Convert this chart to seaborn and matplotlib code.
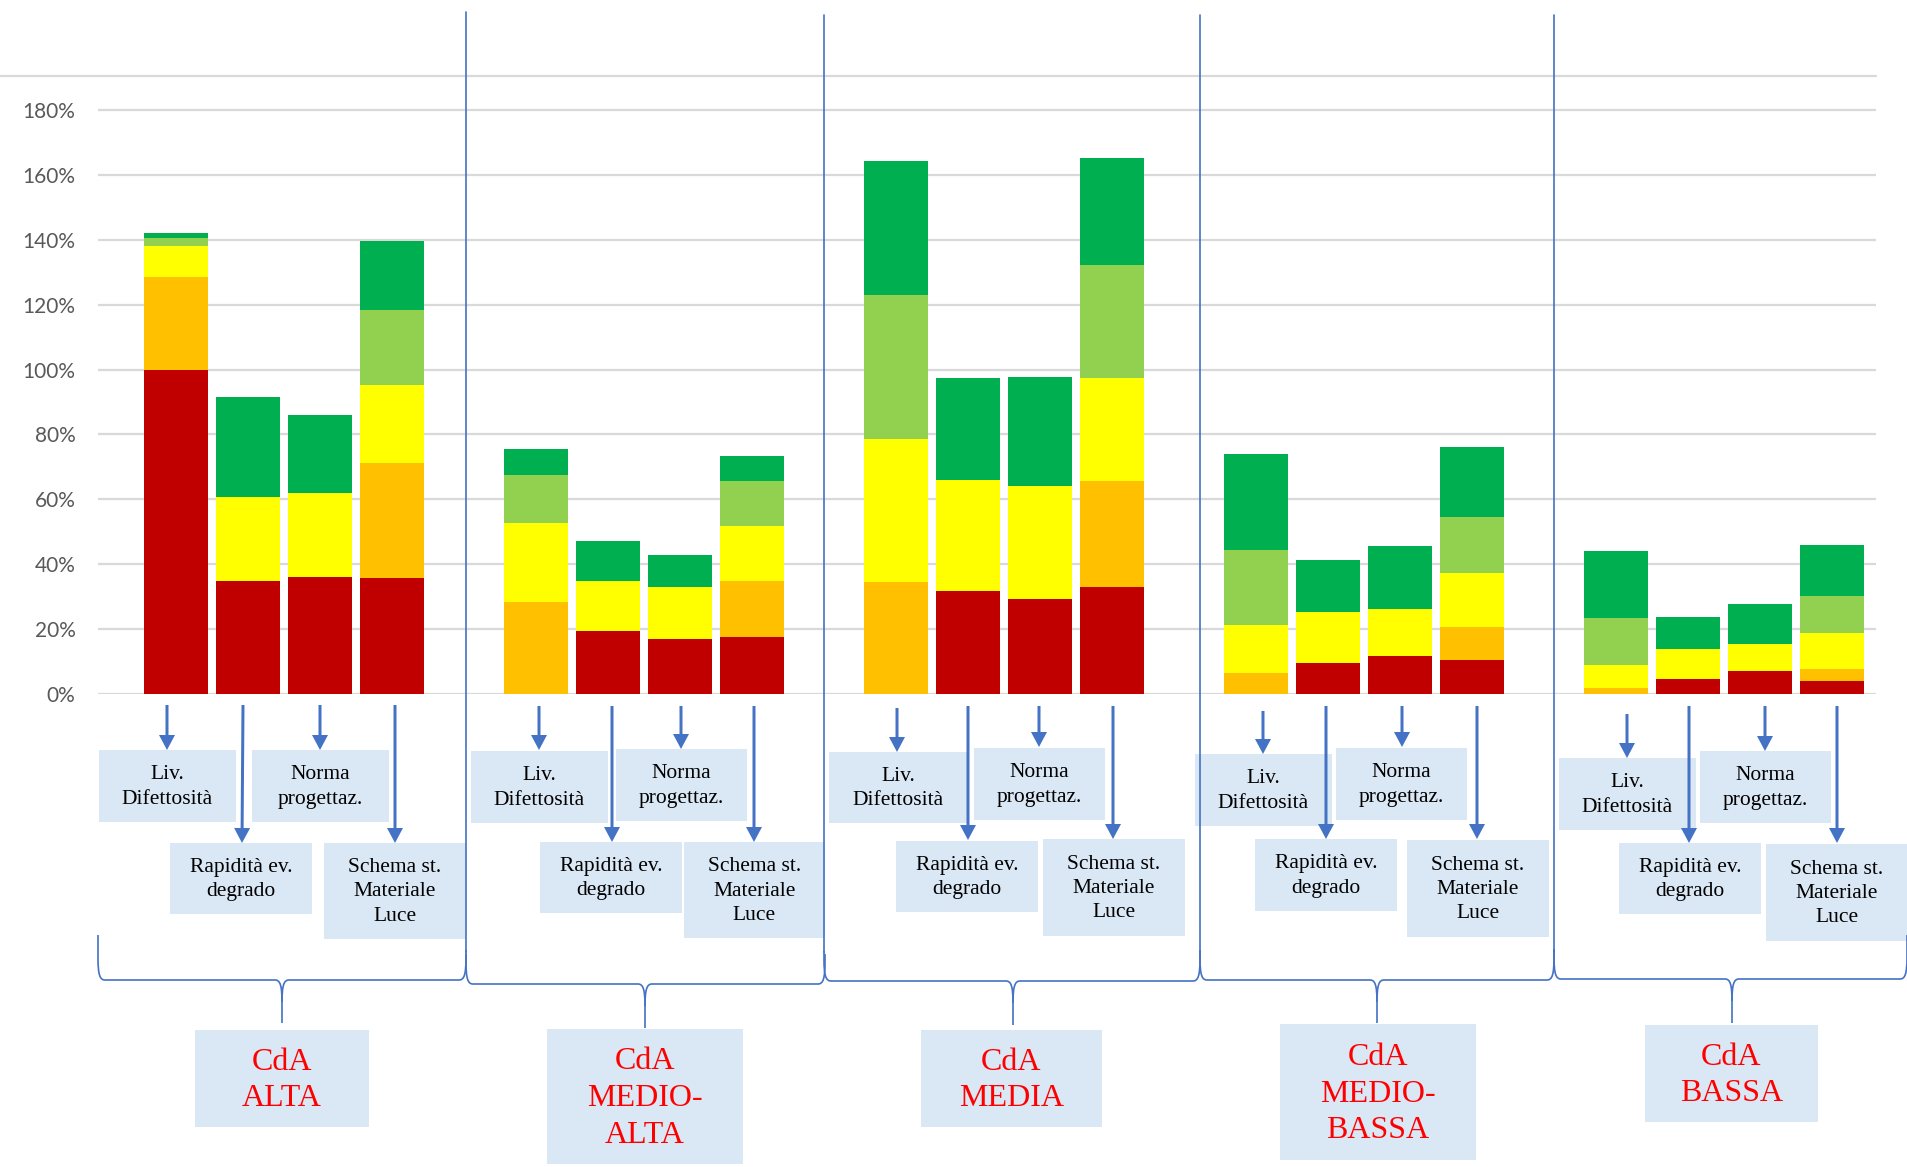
import numpy as np
import pandas as pd
import matplotlib
matplotlib.use("Agg")
import matplotlib.pyplot as plt
import seaborn as sns
from matplotlib.patches import Rectangle, FancyArrow, PathPatch
from matplotlib.path import Path
from matplotlib.lines import Line2D
from matplotlib.transforms import Affine2D

# ---------------------------------------------------------------- data
classi = ["ALTA", "MEDIO-\nALTA", "MEDIA", "MEDIO-\nBASSA", "BASSA"]
criteri = ["Liv.\nDifettosità", "Rapidità ev.\ndegrado",
           "Norma\nprogettaz.", "Schema st.\nMateriale\nLuce"]

# percentage share of each level, 4 bars (criteri) per class of attention
rosso = [100.0, 34.9, 36.1, 35.7,
         0.0, 19.5, 16.9, 17.5,
         0.0, 31.8, 29.4, 33.1,
         0.0, 9.6, 11.7, 10.4,
         0.0, 4.5, 7.0, 4.1]
arancione = [28.5, 0.0, 0.0, 35.6,
             28.5, 0.0, 0.0, 17.4,
             34.4, 0.0, 0.0, 32.6,
             6.4, 0.0, 0.0, 10.3,
             1.8, 0.0, 0.0, 3.7]
giallo = [9.6, 25.7, 26.0, 24.1,
          24.1, 15.4, 16.2, 17.0,
          44.3, 34.3, 34.8, 31.6,
          15.0, 15.8, 14.5, 16.5,
          7.0, 9.4, 8.3, 10.9]
verde_chiaro = [2.6, 0.0, 0.0, 22.9,
                15.0, 0.0, 0.0, 13.8,
                44.2, 0.0, 0.0, 34.8,
                23.0, 0.0, 0.0, 17.4,
                14.5, 0.0, 0.0, 11.4]
verde = [1.3, 30.8, 24.0, 21.4,
         7.8, 12.2, 9.8, 7.8,
         41.5, 31.2, 33.6, 33.1,
         29.6, 15.8, 19.3, 21.4,
         20.7, 9.8, 12.5, 15.8]

yticks = [0, 20, 40, 60, 80, 100, 120, 140, 160, 180]

colori = ["#C00000", "#FFC000", "#FFFF00", "#92D050", "#00B050"]

# ---------------------------------------------------------------- figure
W, H = 1908, 1167
sns.set_style("white")
fig = plt.figure(figsize=(W / 100, H / 100), dpi=100)

ax_left, ax_right = 97.7, 1875.7
ax_top, ax_bot = 77.6, 694.0
ax = fig.add_axes([ax_left / W, 1 - ax_bot / H,
                   (ax_right - ax_left) / W, (ax_bot - ax_top) / H])

# one category slot per bar, with an empty slot between classes
n_cls, n_crit = len(classi), len(criteri)
slots = [str(5 * g + j) for g in range(n_cls) for j in range(n_crit)]
order = [str(i) for i in range(5 * n_cls - 1)]

stack = np.array([rosso, arancione, giallo, verde_chiaro, verde])
cum = np.cumsum(stack, axis=0)

# stacked bars: draw the cumulative totals from the top level downwards
for k in reversed(range(len(stack))):
    mask = stack[k] > 0
    df = pd.DataFrame({"slot": np.array(slots)[mask], "top": cum[k][mask]})
    sns.barplot(data=df, x="slot", y="top", order=order, color=colori[k],
                saturation=1, width=0.89, errorbar=None, linewidth=0,
                ax=ax)

ax.set_xlim(-1.086, 23.608)
ax.set_ylim(0, 190)
ax.set_xticks([])
ax.set_xlabel("")
ax.set_ylabel("")
ax.set_yticks(yticks)
ax.set_yticklabels([f"{v}%" for v in yticks])
ax.tick_params(axis="y", length=0, pad=16, labelsize=15, labelcolor="#595959")
for lbl in ax.get_yticklabels():
    lbl.set_fontfamily("Lato")
ax.yaxis.grid(True, color="#D9D9D9", lw=1.6)
ax.xaxis.grid(False)
ax.set_axisbelow(True)
for s in ax.spines.values():
    s.set_visible(False)

# ---------------------------------------------------------------- annotations
# pixel coordinates of the canvas, y pointing down
T = Affine2D().scale(1 / W, -1 / H).translate(0, 1) + fig.transFigure
BLUE = "#4472C4"
BOX = "#DAE7F5"
SERIF = "Liberation Serif"

fig.add_artist(Line2D([0, 1876], [76, 76], transform=T, color="#D9D9D9", lw=1.6))

# label boxes per class: Liv, Rapidità, Norma, Schema, CdA  (x0, x1, y0, y1)
boxes = [
    [(99, 236, 750, 822), (170, 312, 843, 914), (252, 389, 750, 822), (324, 466, 843, 939), (195, 369, 1030, 1127)],
    [(471, 608, 751, 823), (540, 682, 842, 913), (616, 747, 749, 821), (684, 825, 842, 938), (547, 743, 1029, 1164)],
    [(829, 967, 752, 823), (896, 1038, 841, 912), (974, 1105, 748, 820), (1043, 1185, 839, 936), (921, 1102, 1030, 1127)],
    [(1195, 1332, 754, 826), (1255, 1397, 839, 911), (1336, 1467, 748, 820), (1407, 1549, 840, 937), (1280, 1476, 1024, 1160)],
    [(1559, 1696, 758, 830), (1619, 1761, 843, 914), (1700, 1831, 751, 823), (1766, 1908, 844, 941), (1645, 1818, 1025, 1122)],
]
# arrows: x top, y top, x tip, y tip
arrows = [
    [(167, 705, 167, 750), (243, 705, 242, 843), (320, 705, 320, 750), (395, 705, 395, 843)],
    [(539, 706, 539, 750), (612, 706, 612, 842), (681, 706, 681, 749), (754, 706, 754, 842)],
    [(897, 708, 897, 752), (968, 706, 968, 840), (1039, 706, 1039, 747), (1113, 706, 1113, 839)],
    [(1263, 711, 1263, 754), (1326, 706, 1326, 839), (1402, 706, 1402, 747), (1477, 706, 1477, 839)],
    [(1627, 714, 1627, 758), (1689, 706, 1689, 843), (1765, 706, 1765, 751), (1837, 706, 1837, 843)],
]
# braces: left, right, centre, horizontal y, tip y
braces = [
    (98, 466, 282, 980, 1023),
    (466, 825, 645, 984, 1028),
    (824, 1200, 1013, 981, 1025),
    (1200, 1554, 1377, 980, 1023),
    (1554, 1907, 1732, 979, 1023),
]
sep_x = [466, 824.3, 1200.5, 1554.3]
sep_top = [12, 15, 15, 15]

for g in range(n_cls):
    for j, (x0, x1, y0, y1) in enumerate(boxes[g]):
        fig.add_artist(Rectangle((x0, y0), x1 - x0, y1 - y0, transform=T,
                                 facecolor=BOX, edgecolor="none"))
        cx, cy = (x0 + x1) / 2, (y0 + y1) / 2
        if j < 4:
            fig.text(cx, cy + 1, criteri[j], transform=T, ha="center", va="center",
                     fontsize=15.5, family=SERIF, color="black", linespacing=1.38)
        else:
            fig.text(cx, cy + 2, "CdA\n" + classi[g], transform=T, ha="center",
                     va="center", fontsize=23, family=SERIF, color="#FF0000",
                     linespacing=1.36)
    for (xa, ya, xb, yb) in arrows[g]:
        fig.add_artist(FancyArrow(xa, ya, xb - xa, yb - ya, width=3,
                                  head_width=16, head_length=15,
                                  length_includes_head=True, transform=T,
                                  color=BLUE, lw=0))

# curly braces below each class
def brace_paths(L, R, C, Hy, Ty, top_l, top_r, dx=7, dy=22):
    left = [(L, top_l), (L, Hy - dy), (L, Hy - 5), (L + 2, Hy), (L + dx, Hy),
            (C - dx, Hy), (C - 2, Hy), (C, Hy + 5), (C, Hy + dy), (C, Ty)]
    right = [(R, top_r), (R, Hy - dy), (R, Hy - 5), (R - 2, Hy), (R - dx, Hy),
             (C + dx, Hy), (C + 2, Hy), (C, Hy + 5), (C, Hy + dy)]
    cl = [Path.MOVETO, Path.LINETO, Path.CURVE4, Path.CURVE4, Path.CURVE4,
          Path.LINETO, Path.CURVE4, Path.CURVE4, Path.CURVE4, Path.LINETO]
    cr = cl[:-1]
    return Path(left, cl), Path(right, cr)

for g, (L, R, C, Hy, Ty) in enumerate(braces):
    top_l = 935 if g == 0 else Hy - 30
    top_r = 935 if g == n_cls - 1 else Hy - 30
    for p in brace_paths(L, R, C, Hy, Ty, top_l, top_r):
        fig.add_artist(PathPatch(p, transform=T, facecolor="none",
                                 edgecolor=BLUE, lw=1.2))

for x, yt in zip(sep_x, sep_top):
    fig.add_artist(Line2D([x, x], [yt, 952], transform=T, color=BLUE, lw=1.2))

fig.savefig("out.png", dpi=100)
